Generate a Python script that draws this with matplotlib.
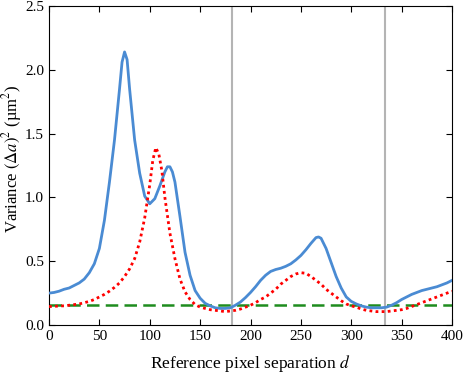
"""Variance of (Delta a)^2 vs reference pixel separation d."""
import matplotlib
matplotlib.use("Agg")
import matplotlib.pyplot as plt
import numpy as np

plt.rcParams["font.family"] = ["Liberation Serif", "DejaVu Serif"]
plt.rcParams["mathtext.fontset"] = "stix"

# blue solid curve
d_blue = [0, 5, 10, 15, 20, 25, 30, 35, 40, 45, 50, 55, 60, 65, 70, 72.5, 75,
          77.5, 80, 85, 90, 95, 100, 105, 110, 115, 117.5, 120, 122.5, 125,
          130, 135, 140, 145, 150, 155, 160, 165, 170, 175, 180, 185, 190,
          195, 200, 205, 210, 215, 220, 225, 230, 235, 240, 245, 250, 255,
          260, 265, 267.5, 270, 275, 280, 285, 290, 295, 300, 305, 310, 315,
          320, 325, 330, 335, 340, 345, 350, 355, 360, 365, 370, 375, 380,
          385, 390, 395, 400]
v_blue = [0.25, 0.255, 0.265, 0.28, 0.29, 0.31, 0.33, 0.36, 0.41, 0.48, 0.60,
          0.82, 1.12, 1.45, 1.85, 2.06, 2.14, 2.08, 1.85, 1.45, 1.19, 1.01,
          0.95, 0.99, 1.09, 1.20, 1.24, 1.24, 1.20, 1.12, 0.85, 0.57, 0.39,
          0.27, 0.21, 0.17, 0.15, 0.135, 0.13, 0.13, 0.135, 0.155, 0.18,
          0.215, 0.255, 0.30, 0.35, 0.39, 0.42, 0.435, 0.445, 0.46, 0.48,
          0.51, 0.545, 0.59, 0.64, 0.685, 0.69, 0.68, 0.60, 0.49, 0.38, 0.29,
          0.22, 0.185, 0.165, 0.15, 0.14, 0.135, 0.135, 0.135, 0.14, 0.155,
          0.175, 0.20, 0.22, 0.24, 0.255, 0.27, 0.28, 0.29, 0.30, 0.315,
          0.33, 0.35]

# red dotted curve
d_red = [0, 5, 10, 15, 20, 25, 30, 35, 40, 45, 50, 55, 60, 65, 70, 75, 80, 85,
         90, 95, 100, 103, 106, 109, 112, 115, 120, 125, 130, 135, 140, 145,
         150, 155, 160, 165, 170, 175, 180, 185, 190, 195, 200, 205, 210, 215,
         220, 225, 230, 235, 240, 245, 250, 255, 260, 265, 270, 275, 280, 285,
         290, 295, 300, 305, 310, 315, 320, 325, 330, 335, 340, 345, 350, 355,
         360, 365, 370, 375, 380, 385, 390, 395, 400]
v_red = [0.145, 0.145, 0.15, 0.15, 0.155, 0.16, 0.165, 0.175, 0.185, 0.20,
         0.22, 0.24, 0.265, 0.295, 0.33, 0.38, 0.44, 0.52, 0.65, 0.84, 1.10,
         1.29, 1.39, 1.34, 1.21, 1.00, 0.72, 0.52, 0.36, 0.26, 0.20, 0.16,
         0.14, 0.13, 0.12, 0.115, 0.11, 0.105, 0.11, 0.115, 0.125, 0.14,
         0.155, 0.175, 0.20, 0.22, 0.25, 0.28, 0.32, 0.35, 0.38, 0.40, 0.41,
         0.405, 0.38, 0.35, 0.32, 0.28, 0.25, 0.22, 0.19, 0.165, 0.15, 0.14,
         0.125, 0.115, 0.11, 0.105, 0.105, 0.105, 0.11, 0.115, 0.12, 0.13,
         0.145, 0.16, 0.175, 0.19, 0.205, 0.22, 0.235, 0.25, 0.265]

baseline = 0.155
vlines = [182, 333]

fig = plt.figure(figsize=(4.64, 3.75), dpi=100)
ax = fig.add_axes([0.1056, 0.1333, 0.8686, 0.8507])

for xv in vlines:
    ax.axvline(xv, color="#b4b4b4", linewidth=1.5, zorder=1)
ax.axhline(baseline, color="#1e8c1e", linewidth=1.8, linestyle=(0, (5, 2.5)), zorder=2)
ax.plot(d_blue, v_blue, color="#4a8bd3", linewidth=2.0, zorder=3)
ax.plot(d_red, v_red, color="red", linewidth=2.0, linestyle=(0, (1, 1.2)), zorder=4)

ax.set_xlim(0, 400)
ax.set_ylim(0, 2.5)
ax.set_xticks(np.arange(0, 401, 50))
ax.set_yticks(np.arange(0, 2.51, 0.5))
ax.set_yticklabels([f"{t:.1f}" for t in np.arange(0, 2.51, 0.5)])
ax.tick_params(direction="in", top=True, right=True, labelsize=11, length=4)
ax.set_xlabel("Reference pixel separation $\\it{d}$", fontsize=12.5, labelpad=7)
ax.set_ylabel("Variance $(\\Delta \\it{a})^2$ (\u00b5m$^2$)", fontsize=12)
ax.yaxis.set_label_coords(-0.061, 0.52)

fig.savefig("out.png", dpi=100, facecolor="white")
